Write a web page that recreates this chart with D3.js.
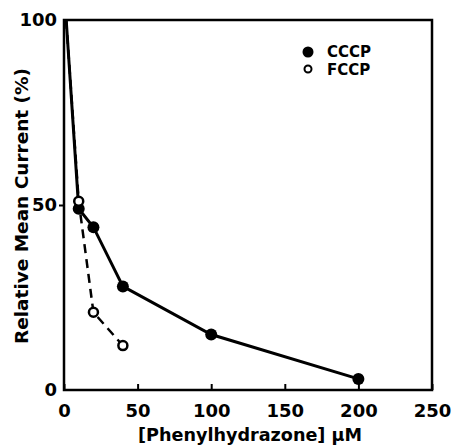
<!DOCTYPE html>
<html>
<head>
<meta charset="utf-8">
<script src="https://cdn.jsdelivr.net/npm/d3@7"></script>
<style>
  body { margin: 0; background: #fff; }
  text { font-family: "DejaVu Sans", sans-serif; font-weight: bold; fill: #000; }
</style>
</head>
<body>
<div id="chart"></div>
<script>
// concentrations (µM) and relative mean current (%)
const cccpX = [1.5, 10, 20, 40, 100, 200];
const cccpY = [100, 49, 44, 28, 15, 3];
const fccpX = [1.5, 10, 20, 40];
const fccpY = [100, 51, 21, 12];
const xTicks = [0, 50, 100, 150, 200, 250];
const yTicks = [0, 50, 100];

const width = 452, height = 448;
const margin = { top: 20, right: 20, bottom: 58, left: 64 };

const svg = d3.select('#chart').append('svg')
  .attr('width', width)
  .attr('height', height);

const x = d3.scaleLinear().domain([0, 250]).range([margin.left, width - margin.right]);
const y = d3.scaleLinear().domain([0, 100]).range([height - margin.bottom, margin.top]);

// frame
svg.append('rect')
  .attr('x', x(0)).attr('y', y(100))
  .attr('width', x(250) - x(0)).attr('height', y(0) - y(100))
  .attr('fill', 'none').attr('stroke', '#000').attr('stroke-width', 2.5);

// x axis: ticks point inward
const xAxis = svg.append('g')
  .attr('transform', `translate(0,${y(0)})`)
  .call(d3.axisBottom(x).tickValues(xTicks).tickSize(-6).tickPadding(14));
xAxis.select('.domain').remove();
xAxis.selectAll('line').attr('stroke-width', 2);
xAxis.selectAll('text').style('font-size', '18px');

// y axis: ticks point outward
const yAxis = svg.append('g')
  .attr('transform', `translate(${x(0)},0)`)
  .call(d3.axisLeft(y).tickValues(yTicks).tickSize(5).tickPadding(2));
yAxis.select('.domain').remove();
yAxis.selectAll('line').attr('stroke-width', 2);
yAxis.selectAll('text').style('font-size', '18px');
yAxis.selectAll('.tick line').filter(d => d !== 50).remove();

const line = d3.line().x(d => x(d[0])).y(d => y(d[1]));
const cccp = cccpX.map((v, i) => [v, cccpY[i]]);
const fccp = fccpX.map((v, i) => [v, fccpY[i]]);

svg.append('path').datum(fccp)
  .attr('d', line).attr('fill', 'none')
  .attr('stroke', '#000').attr('stroke-width', 2.5)
  .attr('stroke-dasharray', '9,6');

svg.append('path').datum(cccp)
  .attr('d', line).attr('fill', 'none')
  .attr('stroke', '#000').attr('stroke-width', 3);

// markers (first point at the axis has none)
svg.selectAll('circle.cccp').data(cccp.slice(1))
  .enter().append('circle')
  .attr('class', 'cccp')
  .attr('cx', d => x(d[0])).attr('cy', d => y(d[1]))
  .attr('r', 6).attr('fill', '#000');

svg.selectAll('circle.fccp').data(fccp.slice(1))
  .enter().append('circle')
  .attr('class', 'fccp')
  .attr('cx', d => x(d[0])).attr('cy', d => y(d[1]))
  .attr('r', 4.5).attr('fill', '#fff')
  .attr('stroke', '#000').attr('stroke-width', 2.5);

// legend
const legend = svg.append('g');
legend.append('circle').attr('cx', 308).attr('cy', 52).attr('r', 5.5).attr('fill', '#000');
legend.append('circle').attr('cx', 308).attr('cy', 69).attr('r', 3.5)
  .attr('fill', '#fff').attr('stroke', '#000').attr('stroke-width', 2);
legend.append('text').attr('x', 327).attr('y', 57).style('font-size', '15px').text('CCCP');
legend.append('text').attr('x', 327).attr('y', 75).style('font-size', '15px').text('FCCP');

// axis labels
svg.append('text')
  .attr('x', 250).attr('y', 441)
  .attr('text-anchor', 'middle')
  .attr('textLength', 224).attr('lengthAdjust', 'spacingAndGlyphs')
  .style('font-size', '17px')
  .text('[Phenylhydrazone] µM');

svg.append('text')
  .attr('transform', 'translate(28,206) rotate(-90)')
  .attr('text-anchor', 'middle')
  .attr('textLength', 276).attr('lengthAdjust', 'spacingAndGlyphs')
  .style('font-size', '18px')
  .text('Relative Mean Current (%)');
</script>
</body>
</html>
